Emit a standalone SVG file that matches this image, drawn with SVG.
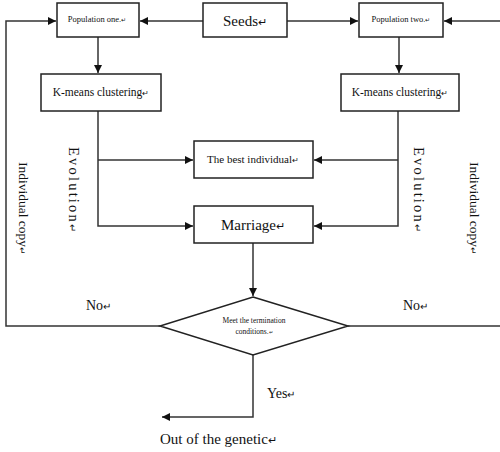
<svg xmlns="http://www.w3.org/2000/svg" width="500" height="452" viewBox="0 0 500 452">
  <defs>
    <marker id="arrow" viewBox="0 0 10 10" refX="10" refY="5" markerWidth="8" markerHeight="8" markerUnits="userSpaceOnUse" orient="auto">
      <path d="M0,0 L10,5 L0,10 z" fill="#111"/>
    </marker>
    <style>
      .box { fill: #fff; stroke: #222; stroke-width: 1.5; }
      .line { fill: none; stroke: #333; stroke-width: 1.5; }
      text { font-family: "Liberation Serif", "Times New Roman", serif; fill: #111; }
      .mk { font-size: 70%; }
    </style>
  </defs>
  <rect width="500" height="452" fill="#fff"/>

  <!-- connectors -->
  <g id="connectors">
    <line class="line" x1="203" y1="21" x2="140" y2="21" marker-end="url(#arrow)"/>
    <line class="line" x1="287" y1="21" x2="358" y2="21" marker-end="url(#arrow)"/>
    <polyline class="line" points="160,326 6,326 6,21 56,21" marker-end="url(#arrow)"/>
    <polyline class="line" points="348,326 500,326" />
    <polyline class="line" points="500,21 444,21" marker-end="url(#arrow)"/>
    <line class="line" x1="98" y1="37" x2="98" y2="73" marker-end="url(#arrow)"/>
    <line class="line" x1="399" y1="37" x2="399" y2="73" marker-end="url(#arrow)"/>
    <polyline class="line" points="98,111 98,226 193,226" marker-end="url(#arrow)"/>
    <line class="line" x1="98" y1="160" x2="193" y2="160" marker-end="url(#arrow)"/>
    <polyline class="line" points="398,111 398,226 314,226" marker-end="url(#arrow)"/>
    <line class="line" x1="398" y1="160" x2="314" y2="160" marker-end="url(#arrow)"/>
    <line class="line" x1="253" y1="243" x2="253" y2="296" marker-end="url(#arrow)"/>
    <polyline class="line" points="253,355 253,417 162,417" marker-end="url(#arrow)"/>
  </g>

  <g id="seeds">
    <rect class="box" x="203" y="3" width="84" height="34"/>
    <text x="245" y="26" font-size="15" text-anchor="middle">Seeds<tspan class="mk">↵</tspan></text>
  </g>
  <g id="population-one">
    <rect class="box" x="57" y="3" width="82" height="34"/>
    <text x="97" y="22" font-size="8.5" text-anchor="middle">Population one.<tspan class="mk">↵</tspan></text>
  </g>
  <g id="population-two">
    <rect class="box" x="359" y="3" width="84" height="34"/>
    <text x="401" y="22" font-size="8.5" text-anchor="middle">Population two.<tspan class="mk">↵</tspan></text>
  </g>
  <g id="kmeans-one">
    <rect class="box" x="41" y="74" width="120" height="37"/>
    <text x="101" y="96" font-size="11.5" text-anchor="middle">K-means clustering<tspan class="mk">↵</tspan></text>
  </g>
  <g id="kmeans-two">
    <rect class="box" x="341" y="74" width="118" height="37"/>
    <text x="400" y="96" font-size="11.5" text-anchor="middle">K-means clustering<tspan class="mk">↵</tspan></text>
  </g>
  <g id="best-individual">
    <rect class="box" x="194" y="141" width="119" height="37"/>
    <text x="253" y="163" font-size="11" text-anchor="middle">The best individual<tspan class="mk">↵</tspan></text>
  </g>
  <g id="marriage">
    <rect class="box" x="194" y="206" width="119" height="37"/>
    <text x="253" y="230" font-size="15" text-anchor="middle">Marriage<tspan class="mk">↵</tspan></text>
  </g>
  <g id="termination">
    <polygon class="box" points="253,297 348,326 253,355 160,326"/>
    <text x="254" y="323" font-size="7.5" text-anchor="middle">Meet the termination</text>
    <text x="254" y="334" font-size="7.5" text-anchor="middle">conditions.<tspan class="mk">↵</tspan></text>
  </g>

  <!-- edge labels -->
  <g id="labels">
    <text transform="translate(69,147) rotate(90)" font-size="14.5" letter-spacing="2.2">Evolution<tspan class="mk">↵</tspan></text>
    <text transform="translate(414,147) rotate(90)" font-size="14.5" letter-spacing="2.2">Evolution<tspan class="mk">↵</tspan></text>
    <text transform="translate(19,162) rotate(90)" font-size="13.5">Individual copy<tspan class="mk">↵</tspan></text>
    <text transform="translate(470,162) rotate(90)" font-size="13.5">Individual copy<tspan class="mk">↵</tspan></text>
    <text x="86" y="310" font-size="14">No<tspan class="mk">↵</tspan></text>
    <text x="403" y="310" font-size="14">No<tspan class="mk">↵</tspan></text>
    <text x="267" y="398" font-size="14">Yes<tspan class="mk">↵</tspan></text>
    <text x="160" y="444" font-size="15">Out of the genetic<tspan class="mk">↵</tspan></text>
  </g>
</svg>
